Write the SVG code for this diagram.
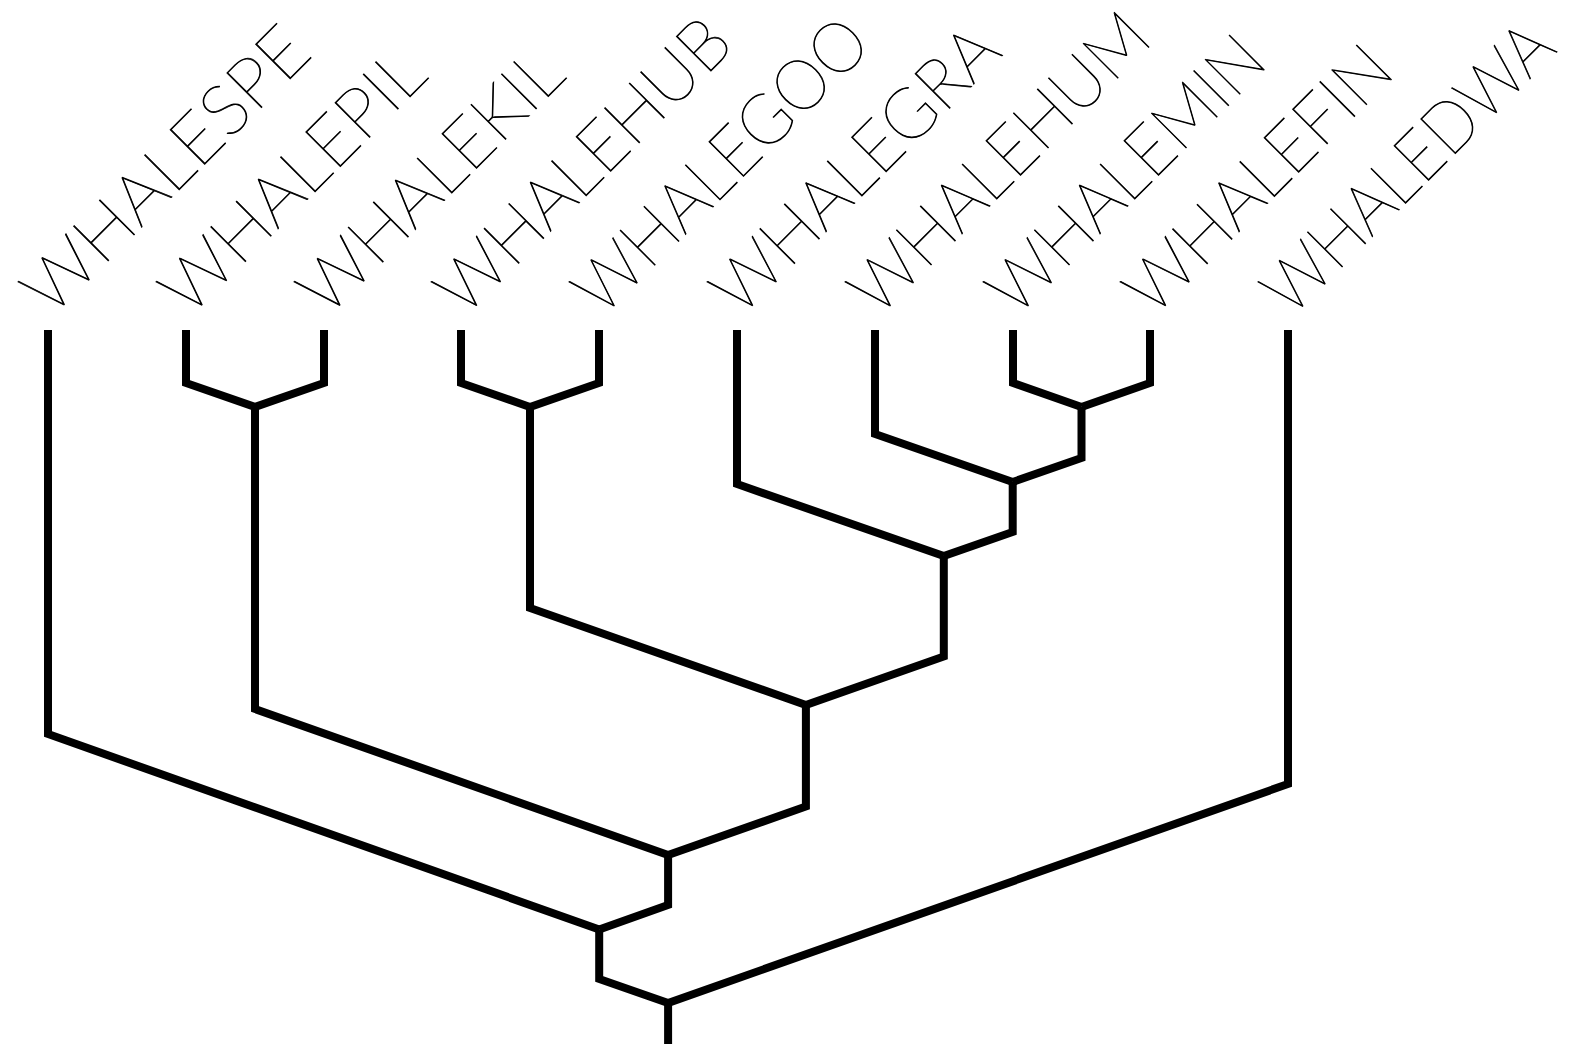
<svg xmlns="http://www.w3.org/2000/svg" width="1570" height="1044" viewBox="0 0 1570 1044">
<style>
.lbl{font-family:"Lato","DejaVu Sans",sans-serif;font-weight:100;font-size:70px;fill:#000;stroke:#000;stroke-width:0.8}
.br{fill:none;stroke:#000;stroke-width:8;stroke-linejoin:miter;stroke-linecap:butt}
</style>
<rect width="1570" height="1044" fill="#fff"/>
<g id="connectors">
<polyline class="br" points="186,330 186,383 255,407"/>
<polyline class="br" points="324,330 324,383 255,407"/>
<polyline class="br" points="461,330 461,383 530,407"/>
<polyline class="br" points="599,330 599,383 530,407"/>
<polyline class="br" points="1013,330 1013,383 1081.5,407"/>
<polyline class="br" points="1150,330 1150,383 1081.5,407"/>
<polyline class="br" points="875,330 875,434 1012.7,482"/>
<polyline class="br" points="1081.5,407 1081.5,458 1012.7,482"/>
<polyline class="br" points="737,330 737,484 943.8,556"/>
<polyline class="br" points="1012.7,482 1012.7,532 943.8,556"/>
<polyline class="br" points="530,407 530,608 805.9,705"/>
<polyline class="br" points="943.8,556 943.8,656.5 805.9,705"/>
<polyline class="br" points="255,407 255,709 668.1,855"/>
<polyline class="br" points="805.9,705 805.9,806.5 668.1,855"/>
<polyline class="br" points="48,330 48,734 599.2,929.5"/>
<polyline class="br" points="668.1,855 668.1,905 599.2,929.5"/>
<polyline class="br" points="599.2,929.5 599.2,979 668.1,1003"/>
<polyline class="br" points="1288,330 1288,784 668.1,1003"/>
<line class="br" x1="668.1" y1="1003" x2="668.1" y2="1044"/>
</g>
<g id="node-WHALESPE"><text class="lbl" transform="translate(51,318) rotate(-45)" textLength="372" lengthAdjust="spacingAndGlyphs">WHALESPE</text></g>
<g id="node-WHALEPIL"><text class="lbl" transform="translate(189,318) rotate(-45)" textLength="340" lengthAdjust="spacingAndGlyphs">WHALEPIL</text></g>
<g id="node-WHALEKIL"><text class="lbl" transform="translate(327,318) rotate(-45)" textLength="340" lengthAdjust="spacingAndGlyphs">WHALEKIL</text></g>
<g id="node-WHALEHUB"><text class="lbl" transform="translate(464,318) rotate(-45)" textLength="384" lengthAdjust="spacingAndGlyphs">WHALEHUB</text></g>
<g id="node-WHALEGOO"><text class="lbl" transform="translate(602,318) rotate(-45)" textLength="384" lengthAdjust="spacingAndGlyphs">WHALEGOO</text></g>
<g id="node-WHALEGRA"><text class="lbl" transform="translate(740,318) rotate(-45)" textLength="373" lengthAdjust="spacingAndGlyphs">WHALEGRA</text></g>
<g id="node-WHALEHUM"><text class="lbl" transform="translate(878,318) rotate(-45)" textLength="391" lengthAdjust="spacingAndGlyphs">WHALEHUM</text></g>
<g id="node-WHALEMIN"><text class="lbl" transform="translate(1016,318) rotate(-45)" textLength="359" lengthAdjust="spacingAndGlyphs">WHALEMIN</text></g>
<g id="node-WHALEFIN"><text class="lbl" transform="translate(1153,318) rotate(-45)" textLength="345" lengthAdjust="spacingAndGlyphs">WHALEFIN</text></g>
<g id="node-WHALEDWA"><text class="lbl" transform="translate(1291,318) rotate(-45)" textLength="378" lengthAdjust="spacingAndGlyphs">WHALEDWA</text></g>
</svg>
